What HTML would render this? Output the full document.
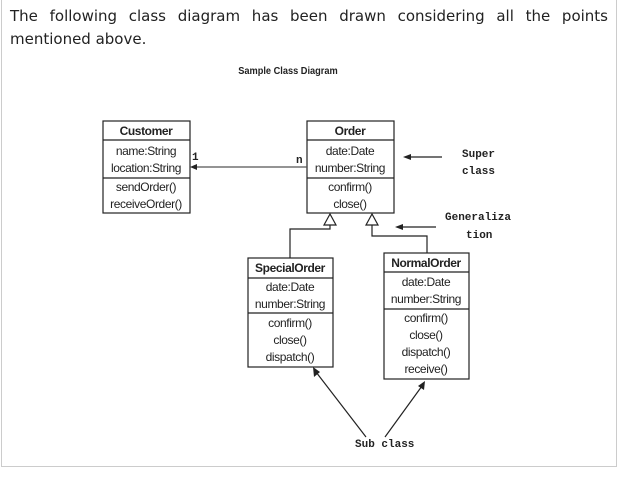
<!DOCTYPE html>
<html><head><meta charset="utf-8"><style>
body{margin:0;width:618px;height:480px;background:#fff;position:relative;overflow:hidden}
.frame{position:absolute;left:1px;top:-1px;width:614px;height:467px;border:1px solid #ccc;border-top:none}
.p{position:absolute;left:10px;top:5px;width:598px;font:15px "DejaVu Sans",sans-serif;color:#222;line-height:23px;text-align:justify;text-align-last:left}
</style></head><body>
<div class="frame"></div>
<div class="p">The following class diagram has been drawn considering all the points mentioned above.</div>
<svg width="618" height="480" style="position:absolute;left:0;top:0" font-family="Liberation Sans, sans-serif">
<text x="288" y="74" font-size="10.5" font-weight="bold" text-anchor="middle" fill="#222" transform="translate(288,74) scale(0.88,1) translate(-288,-74)">Sample Class Diagram</text>
<g fill="none" stroke="#222" stroke-width="1.2">
<rect x="103" y="121" width="87" height="92"/><line x1="103" y1="140" x2="190" y2="140"/><line x1="103" y1="178" x2="190" y2="178"/>
<rect x="307" y="121" width="87" height="92"/><line x1="307" y1="140" x2="394" y2="140"/><line x1="307" y1="178" x2="394" y2="178"/>
<rect x="248" y="258" width="85" height="109"/><line x1="248" y1="278" x2="333" y2="278"/><line x1="248" y1="313" x2="333" y2="313"/>
<rect x="384" y="253" width="85" height="126"/><line x1="384" y1="272" x2="469" y2="272"/><line x1="384" y1="309" x2="469" y2="309"/>
<line x1="307" y1="167" x2="194" y2="167" stroke="#555"/>
<polyline points="330,225 330,229 290,229 290,258"/>
<polyline points="372,225 372,236 427,236 427,253"/>
<polygon points="330,214 324,225 336,225" fill="#fff"/>
<polygon points="372,214 366,225 378,225" fill="#fff"/>
<line x1="442" y1="157" x2="410" y2="157"/>
<line x1="436" y1="227" x2="402" y2="227"/>
<line x1="366" y1="437" x2="316" y2="372"/>
<line x1="385" y1="437" x2="422" y2="386"/>
</g>
<g fill="#222">
<polygon points="190,167 197,164 197,170"/>
<polygon points="403,157 411,154 411,160"/>
<polygon points="395,227 403,224 403,230"/>
<polygon points="313,367 314,377 320,372"/>
<polygon points="425,381 418,386 424,390"/>
</g>
<g font-size="12" text-anchor="middle" fill="#222" letter-spacing="-0.4">
<text x="146" y="135" font-weight="bold">Customer</text>
<text x="146" y="155">name:String</text><text x="146" y="172">location:String</text>
<text x="146" y="191">sendOrder()</text><text x="146" y="208">receiveOrder()</text>
<text x="350" y="135" font-weight="bold">Order</text>
<text x="350" y="155">date:Date</text><text x="350" y="172">number:String</text>
<text x="350" y="191">confirm()</text><text x="350" y="208">close()</text>
<text x="290" y="272" font-weight="bold">SpecialOrder</text>
<text x="290" y="291">date:Date</text><text x="290" y="308">number:String</text>
<text x="290" y="327">confirm()</text><text x="290" y="344">close()</text><text x="290" y="361">dispatch()</text>
<text x="426" y="267" font-weight="bold">NormalOrder</text>
<text x="426" y="286">date:Date</text><text x="426" y="303">number:String</text>
<text x="426" y="322">confirm()</text><text x="426" y="339">close()</text><text x="426" y="356">dispatch()</text><text x="426" y="373">receive()</text>
</g>
<g font-family="Liberation Mono, monospace" font-size="11" font-weight="bold" fill="#222">
<text x="192" y="160">1</text><text x="296" y="163">n</text>
<text x="462" y="157">Super</text><text x="462" y="174">class</text>
<text x="445" y="220">Generaliza</text><text x="466" y="238">tion</text>
<text x="355" y="447">Sub class</text>
</g>
</svg>
</body></html>
